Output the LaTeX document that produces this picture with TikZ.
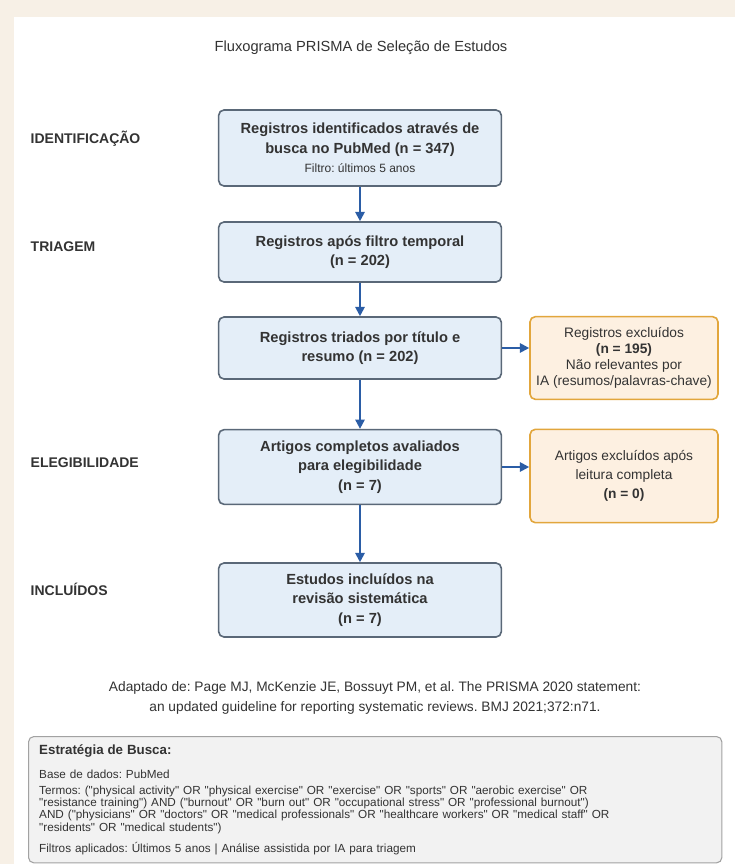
\documentclass[tikz,border=0pt]{standalone}
\usepackage{fontspec}
\setmainfont{Liberation Sans}
\newfontfamily\plainsans{Liberation Sans}
\frenchspacing
\usetikzlibrary{arrows.meta}

\definecolor{pagebg}{HTML}{F7F0E6}
\definecolor{boxblue}{HTML}{E4EEF8}
\definecolor{boxline}{HTML}{5A6878}
\definecolor{excfill}{HTML}{FDF0E1}
\definecolor{excline}{HTML}{E2A63C}
\definecolor{flowblue}{HTML}{2B5DA6}
\definecolor{notefill}{HTML}{F2F2F2}
\definecolor{noteline}{HTML}{A2A2A2}
\definecolor{inkgray}{HTML}{333333}

\tikzset{
  stagebox/.style={draw=boxline, fill=boxblue, line width=1.2pt, rounded corners=4pt,
    align=center, inner sep=0pt, minimum width=212pt, text=inkgray,
    font=\bfseries\fontsize{11}{14.5}\selectfont},
  exclbox/.style={draw=excline, fill=excfill, line width=1.2pt, rounded corners=4pt,
    align=center, inner sep=0pt, minimum width=141pt, text=inkgray,
    font=\fontsize{10.3}{12}\selectfont},
  phase/.style={anchor=west, text=inkgray, font=\bfseries\fontsize{10.5}{12}\selectfont},
  flow/.style={draw=flowblue, line width=1.5pt, -{Triangle[length=7pt,width=7pt]}},
  notebox/.style={draw=noteline, fill=notefill, line width=0.8pt, rounded corners=4pt,
    anchor=north west, align=left, inner xsep=8pt, inner ysep=6pt, text width=504pt,
    minimum height=93.75pt, text=inkgray, font=\plainsans\fontsize{8.8}{8}\selectfont},
}

\begin{document}
\begin{tikzpicture}[x=0.75pt, y=-0.75pt]
	%%%%% START %%%%%
	
	\fill[pagebg] (0, 0) rectangle (735, 864);
	\fill[white] (14, 17) rectangle (735, 864);
	\useasboundingbox (0, 0) rectangle (735, 864);
	
	\node[text=inkgray, font=\fontsize{11}{13}\selectfont] (title) at (361, 48) {Fluxograma PRISMA de Seleção de Estudos};
	
	% fases
	\node[phase] (phid) at (26, 139) {IDENTIFICAÇÃO};
	\node[phase] (phtr) at (26, 247) {TRIAGEM};
	\node[phase] (phel) at (26, 463) {ELEGIBILIDADE};
	\node[phase] (phin) at (26, 589) {INCLUÍDOS};
	
	% caixas principais
	\node[stagebox, minimum height=57pt] (ident) at (360, 148) {Registros identificados através de\\busca no PubMed (n = 347)\\{\mdseries\fontsize{9}{10}\selectfont Filtro: últimos 5 anos}};
	\node[stagebox, minimum height=45pt] (filt) at (360, 252) {Registros após filtro temporal\\(n = 202)};
	\node[stagebox, minimum height=46.5pt] (triad) at (360, 348) {Registros triados por título e\\resumo (n = 202)};
	\node[stagebox, minimum height=56pt] (elig) at (360, 467) {Artigos completos avaliados\\para elegibilidade\\(n = 7)};
	\node[stagebox, minimum height=55.5pt] (incl) at (360, 600) {Estudos incluídos na\\revisão sistemática\\(n = 7)};
	
	% exclusões
	\node[exclbox, minimum height=62pt] (excl1) at (624, 358) {Registros excluídos\\\textbf{(n = 195)}\\Não relevantes por\\IA (resumos/palavras-chave)};
	\node[exclbox, minimum height=70pt, font=\fontsize{10.3}{14}\selectfont] (excl2) at (624, 476) {Artigos excluídos após\\leitura completa\\\textbf{(n = 0)}};
	
	\draw[flow] (ident) -- (filt);
	\draw[flow] (filt) -- (triad);
	\draw[flow] (triad) -- (elig);
	\draw[flow] (elig) -- (incl);
	\draw[flow] (triad.east) -- (triad.east -| excl1.west);
	\draw[flow] (elig.east) -- (elig.east -| excl2.west);
	
	% referencia
	\node[text=inkgray, align=center, font=\fontsize{10.3}{15}\selectfont] (cite) at (375, 698) {Adaptado de: Page MJ, McKenzie JE, Bossuyt PM, et al. The PRISMA 2020 statement:\\an updated guideline for reporting systematic reviews. BMJ 2021;372:n71.};
	
	\node[notebox] (search) at (28, 736) {{\bfseries\fontsize{10}{8}\selectfont Estratégia de Busca:}\\[8.5pt]
		Base de dados: PubMed\\[4pt]
		Termos: ("physical activity" OR "physical exercise" OR "exercise" OR "sports" OR "aerobic exercise" OR\\
		"resistance training") AND ("burnout" OR "burn out" OR "occupational stress" OR "professional burnout")\\
		AND ("physicians" OR "doctors" OR "medical professionals" OR "healthcare workers" OR "medical staff" OR\\
		"residents" OR "medical students")\\[5.5pt]
		Filtros aplicados: Últimos 5 anos | Análise assistida por IA para triagem};
	
	%%%%% END %%%%%
\end{tikzpicture}
\end{document}
